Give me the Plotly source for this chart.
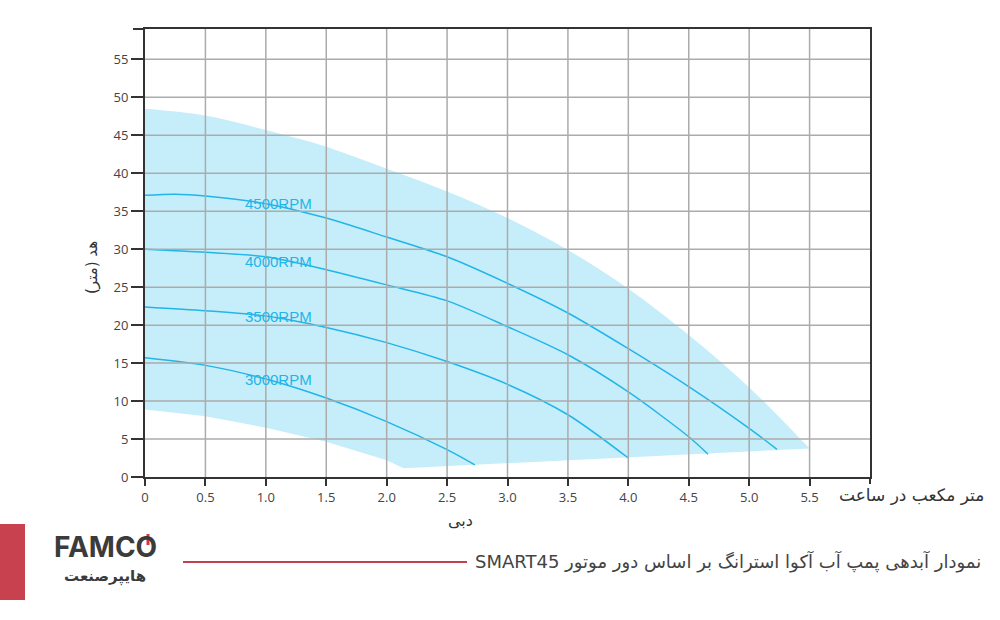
import plotly.graph_objects as go

# ---------------- data ----------------
x_ticks = [0, 0.5, 1.0, 1.5, 2.0, 2.5, 3.0, 3.5, 4.0, 4.5, 5.0, 5.5]
x_tick_labels = ["0", "0.5", "1.0", "1.5", "2.0", "2.5", "3.0", "3.5", "4.0", "4.5", "5.0", "5.5"]
y_ticks = [0, 5, 10, 15, 20, 25, 30, 35, 40, 45, 50, 55]

env_upper_x = [0, 0.5, 1.0, 1.5, 2.0, 2.5, 3.0, 3.5, 4.0, 4.5, 5.0, 5.5]
env_upper_y = [48.5, 47.6, 45.7, 43.5, 40.6, 37.6, 34.1, 29.9, 24.8, 18.7, 11.8, 3.75]
env_lower_x = [0, 0.5, 1.0, 1.5, 2.0, 2.14, 5.5]
env_lower_y = [8.9, 8.0, 6.5, 4.65, 2.2, 1.15, 3.75]

rpm_4500_x = [0, 0.25, 0.5, 1.0, 1.5, 2.0, 2.5, 3.0, 3.5, 4.0, 4.5, 5.0, 5.23]
rpm_4500_y = [37.1, 37.25, 37.0, 36.0, 34.1, 31.6, 29.0, 25.5, 21.6, 16.9, 11.9, 6.4, 3.65]
rpm_4000_x = [0, 0.5, 1.0, 1.5, 2.0, 2.5, 3.0, 3.5, 4.0, 4.5, 4.66]
rpm_4000_y = [30.0, 29.6, 29.0, 27.3, 25.3, 23.2, 19.8, 16.1, 11.2, 5.3, 3.0]
rpm_3500_x = [0, 0.5, 1.0, 1.5, 2.0, 2.5, 3.0, 3.5, 4.0]
rpm_3500_y = [22.4, 21.9, 21.2, 19.7, 17.7, 15.2, 12.2, 8.2, 2.5]
rpm_3000_x = [0, 0.5, 1.0, 1.5, 2.0, 2.5, 2.73]
rpm_3000_y = [15.7, 14.7, 12.9, 10.4, 7.3, 3.6, 1.6]

rpm_labels = ["4500RPM", "4000RPM", "3500RPM", "3000RPM"]
rpm_label_x = [0.81, 0.81, 0.81, 0.81]
rpm_label_y = [36.0, 28.4, 21.2, 12.9]

x_title = "دبی"
x_unit = "متر مکعب در ساعت"
y_title = "هد (متر)"
caption = "نمودار آبدهی پمپ آب آکوا استرانگ بر اساس دور موتور SMART45"
logo_text = "FAMCO"
logo_sub = "هایپرصنعت"

RLE, PDF = "\u202b", "\u202c"
def rtl(s):
    return RLE + s + PDF

# ---------------- layout helpers ----------------
L, T, PW, PH = 145, 29, 725, 448
def px(x):
    return (x - L) / PW
def py(y):
    return (T + PH - y) / PH

CYAN = "#22b5e8"
FILL = "#c6eefa"
GRID = "#ababab"
AX = "#333333"
TXT = "#444444"
RED = "#c4404f"

fig = go.Figure()

fig.add_trace(go.Scatter(x=env_lower_x, y=env_lower_y, mode="lines",
                         line=dict(width=0, color=FILL), hoverinfo="skip", showlegend=False))
fig.add_trace(go.Scatter(x=env_upper_x, y=env_upper_y, mode="lines", fill="tonexty",
                         fillcolor=FILL, line=dict(width=0, color=FILL, shape="spline"),
                         hoverinfo="skip", showlegend=False))

for xs, ys in [(rpm_4500_x, rpm_4500_y), (rpm_4000_x, rpm_4000_y),
               (rpm_3500_x, rpm_3500_y), (rpm_3000_x, rpm_3000_y)]:
    fig.add_trace(go.Scatter(x=xs, y=ys, mode="lines",
                             line=dict(color=CYAN, width=1.5, shape="spline", smoothing=0.8),
                             showlegend=False))

shapes = []
for v in x_ticks[1:]:
    shapes.append(dict(type="line", xref="x", yref="paper", x0=v, x1=v, y0=0, y1=1,
                       line=dict(color=GRID, width=1.5), layer="above"))
for v in y_ticks[1:]:
    shapes.append(dict(type="line", xref="paper", yref="y", x0=0, x1=1, y0=v, y1=v,
                       line=dict(color=GRID, width=1.5), layer="above"))
# frame extensions
shapes.append(dict(type="line", xref="paper", yref="paper", x0=px(133), x1=px(145), y0=1, y1=1,
                   line=dict(color=AX, width=2), layer="above"))
shapes.append(dict(type="line", xref="paper", yref="paper", x0=1, x1=1, y0=py(477), y1=py(484),
                   line=dict(color=AX, width=2), layer="above"))
# footer decorations
shapes.append(dict(type="line", xref="paper", yref="paper", x0=px(183), x1=px(467), y0=py(562), y1=py(562),
                   line=dict(color=RED, width=2)))
shapes.append(dict(type="rect", xref="paper", yref="paper", x0=px(0), x1=px(25), y0=py(600), y1=py(524),
                   fillcolor="#c8414f", line=dict(width=0)))
shapes.append(dict(type="line", xref="paper", yref="paper", x0=px(148), x1=px(148), y0=py(545), y1=py(534),
                   line=dict(color="#d9343f", width=3), layer="above"))

annotations = []
for t, ax_, ay_ in zip(rpm_labels, rpm_label_x, rpm_label_y):
    annotations.append(dict(x=ax_, y=ay_, xref="x", yref="y", text=t, showarrow=False,
                            xanchor="left", yanchor="middle",
                            font=dict(family="Liberation Sans, Arial", size=15, color=CYAN)))

def pa(x, y, text, size, color=AX, xanchor="center", family="DejaVu Sans", angle=0):
    return dict(x=px(x), y=py(y), xref="paper", yref="paper", text=text, textangle=angle,
                xanchor=xanchor, yanchor="middle", showarrow=False,
                font=dict(family=family, size=size, color=color))

annotations += [
    pa(92, 268, rtl(y_title), 15, angle=-90),
    pa(460, 520, rtl(x_title), 16),
    pa(986, 495, rtl(x_unit), 17, xanchor="right"),
    pa(983, 561, rtl(caption), 18, color=TXT, xanchor="right"),
    pa(105, 547, "<b>" + logo_text + "</b>", 28, color="#3b3b3b", family="Inter"),
    pa(105, 576, "<b>" + rtl(logo_sub) + "</b>", 15, color="#3b3b3b"),
]

fig.update_layout(
    width=1000, height=620,
    margin=dict(l=L, r=1000 - L - PW, t=T, b=620 - T - PH),
    plot_bgcolor="white", paper_bgcolor="white",
    shapes=shapes, annotations=annotations,
    font=dict(family="Open Sans", color=TXT),
    xaxis=dict(range=[0, 6], tickvals=x_ticks, ticktext=x_tick_labels, showgrid=False,
               zeroline=False, showline=True, mirror=True, linecolor=AX, linewidth=2,
               ticks="outside", ticklen=7, tickwidth=2, tickcolor=AX,
               tickfont=dict(family="Open Sans", size=13, color=TXT)),
    yaxis=dict(range=[0, 59], tickvals=y_ticks, showgrid=False,
               zeroline=False, showline=True, mirror=True, linecolor=AX, linewidth=2,
               ticks="outside", ticklen=12, tickwidth=2, tickcolor=AX,
               tickfont=dict(family="Open Sans", size=13, color=TXT)),
)

fig.write_html("out.html")
